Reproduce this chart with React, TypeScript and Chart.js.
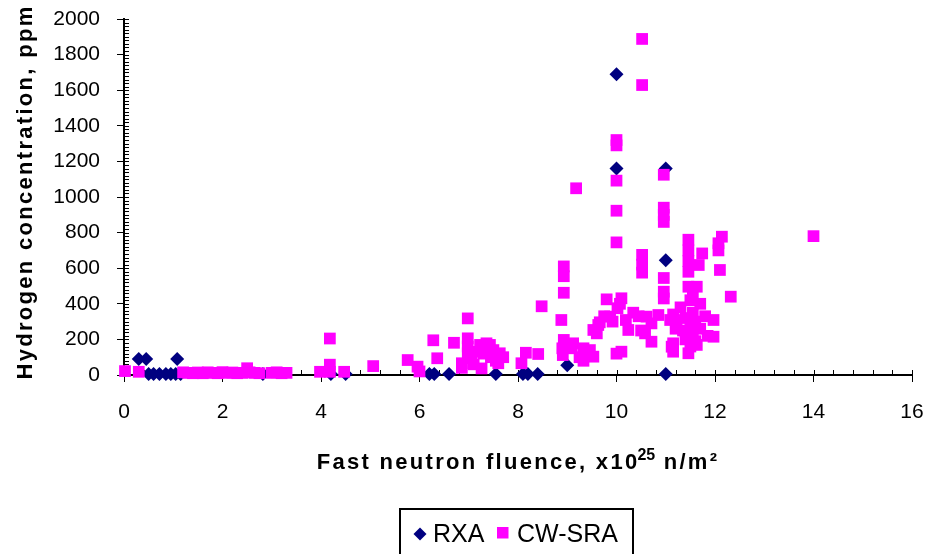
import React, { useEffect, useRef } from "react";
import { Chart, registerables } from "chart.js";

Chart.register(...registerables);

// ---- Data ----
const seriesNames = ["RXA", "CW-SRA"];

const rxaX = [0.3, 0.45, 1.08, 0.5, 0.6, 0.72, 0.85, 0.95, 1.05, 1.15, 2.82, 4.2, 4.5, 6.2, 6.3, 6.6, 7.55, 8.1, 8.2, 8.4, 9.0, 10.0, 10.0, 11.0, 11.0, 11.0];
const rxaY = [90, 90, 90, 5, 5, 5, 5, 5, 5, 5, 5, 5, 5, 5, 5, 5, 5, 5, 5, 5, 55, 1690, 1160, 1160, 645, 5];

const cwX = [
  0.02, 0.3, 1.2, 1.3, 1.4, 1.5, 1.6, 1.7, 1.8, 1.9, 2.0, 2.1, 2.2, 2.3, 2.4, 2.5, 2.55, 2.65, 2.75, 3.0, 3.1, 3.2, 3.3,
  3.98, 4.18, 4.18, 4.18, 4.47, 5.06, 5.76, 5.96, 6.0, 6.28, 6.36, 6.7,
  6.86, 6.86, 6.98, 6.98, 6.98, 6.98, 7.05, 7.1, 7.15, 7.23, 7.26, 7.3, 7.36, 7.43, 7.45, 7.5, 7.55, 7.6, 7.63, 7.7,
  8.07, 8.16, 8.41, 8.48, 8.88, 8.93, 8.93, 8.93, 8.93, 8.9, 8.91, 9.09, 9.12, 9.18, 9.25, 9.33, 9.33, 9.46, 9.53, 9.53,
  9.6, 9.63, 9.66, 9.75, 9.8, 9.87, 9.92,
  10.0, 10.0, 10.0, 10.0, 10.0, 10.02, 10.0, 10.07, 10.1, 10.1, 10.19, 10.24, 10.34, 10.45, 10.5,
  10.52, 10.52, 10.52, 10.52, 10.52, 10.58, 10.61, 10.71, 10.71, 10.85,
  10.96, 10.96, 10.96, 10.96, 10.96, 10.96, 10.96,
  11.09, 11.12, 11.15, 11.15, 11.15, 11.2, 11.22, 11.3, 11.35, 11.4, 11.4,
  11.46, 11.46, 11.46, 11.46, 11.46, 11.46, 11.5, 11.5, 11.5, 11.55, 11.55, 11.55, 11.6, 11.6, 11.63, 11.63,
  11.67, 11.7, 11.7, 11.74, 11.8, 11.85, 11.97, 11.97, 12.07, 12.07, 12.14, 12.1, 12.32, 14.0,
];
const cwY = [
  22, 18, 15, 12, 10, 14, 10, 15, 12, 10, 16, 12, 14, 10, 12, 38, 15, 12, 10, 12, 15, 10, 12,
  18, 205, 58, 18, 18, 50, 84, 47, 20, 195, 94, 181,
  66, 40, 318, 206, 160, 122, 95, 60, 130, 169, 37, 120, 178, 169, 100, 140, 80, 66, 122, 100,
  66, 125, 118, 386, 309, 610, 555, 462, 197, 150, 112, 150, 178, 1049, 100, 80, 150, 140, 103, 253,
  234, 281, 296, 330, 425, 328, 300,
  1320, 1290, 1092, 923, 745, 375, 120, 400, 431, 131, 309, 253, 350, 330, 250,
  1888, 1629, 675, 620, 575, 234, 328, 290, 187, 337,
  1125, 940, 900, 860, 545, 468, 430,
  309, 159, 178, 131, 340, 260, 309, 380, 250, 200, 320,
  760, 700, 640, 580, 496, 122, 420, 280, 160, 450, 350, 230, 300, 190, 496, 169,
  618, 400, 260, 683, 330, 220, 309, 215, 740, 700, 777, 590, 440, 780,
];

const xMin = 0, xMax = 16, xStep = 2, xMinorStep = 0.4;
const yMin = 0, yMax = 2000, yStep = 200, yMinorStep = 20;

const yTitle = "Hydrogen concentration, ppm";
const xTitleMain = "Fast neutron fluence, x10";
const xTitleSup = "25";
const xTitleTail = " n/m\u00B2";

const FONT = "'Liberation Sans', Arial, Helvetica, sans-serif";
const RXA_COLOR = "#000080";
const CW_COLOR = "#FF00FF";

function toPoints(xs: number[], ys: number[]) {
  return xs.map((x, i) => ({ x, y: ys[i] }));
}

const axisDecor = {
  id: "axisDecor",
  beforeDatasetsDraw(chart: any) {
    const { ctx, scales } = chart;
    const x = scales.x, y = scales.y;
    ctx.save();
    ctx.strokeStyle = "#000";
    ctx.lineWidth = 1;
    ctx.beginPath();
    const nx = Math.round((xMax - xMin) / xMinorStep);
    for (let i = 0; i <= nx; i++) {
      const v = xMin + i * xMinorStep;
      const px = Math.round(x.getPixelForValue(v)) + 0.5;
      ctx.moveTo(px, y.bottom);
      ctx.lineTo(px, y.bottom - 5);
    }
    const ny = Math.round((yMax - yMin) / yMinorStep);
    for (let i = 0; i <= ny; i++) {
      const v = yMin + i * yMinorStep;
      const py = Math.round(y.getPixelForValue(v)) + 0.5;
      ctx.moveTo(x.left, py);
      ctx.lineTo(x.left + 5, py);
    }
    ctx.stroke();
    ctx.restore();
  },
  afterDraw(chart: any) {
    const { ctx, chartArea } = chart;
    ctx.save();
    ctx.fillStyle = "#000";
    const ls = 2.3;
    // Y title
    ctx.font = `bold 22px ${FONT}`;
    (ctx as any).letterSpacing = `${ls}px`;
    ctx.translate(32, 192);
    ctx.rotate(-Math.PI / 2);
    ctx.textAlign = "center";
    ctx.textBaseline = "alphabetic";
    ctx.fillText(yTitle, 0, 0);
    ctx.setTransform(1, 0, 0, 1, 0, 0);

    // X title with superscript
    ctx.textAlign = "left";
    ctx.font = `bold 22px ${FONT}`;
    (ctx as any).letterSpacing = `${ls}px`;
    const w1 = ctx.measureText(xTitleMain).width;
    ctx.font = `bold 16px ${FONT}`;
    (ctx as any).letterSpacing = "0px";
    const w2 = ctx.measureText(xTitleSup).width;
    ctx.font = `bold 22px ${FONT}`;
    (ctx as any).letterSpacing = `${ls}px`;
    const w3 = ctx.measureText(xTitleTail).width;
    const cx = (chartArea.left + chartArea.right) / 2;
    const total = w1 - 2 + w2 + w3;
    const sx = cx - total / 2;
    const base = 469;
    ctx.fillText(xTitleMain, sx, base);
    ctx.font = `bold 16px ${FONT}`;
    (ctx as any).letterSpacing = "0px";
    ctx.fillText(xTitleSup, sx + w1 - 2, base - 9);
    ctx.font = `bold 22px ${FONT}`;
    (ctx as any).letterSpacing = `${ls}px`;
    ctx.fillText(xTitleTail, sx + w1 - 2 + w2, base);
    (ctx as any).letterSpacing = "0px";

    // Legend
    const lx = 400, ly = 509, lw = 233, lh = 60;
    ctx.lineWidth = 2;
    ctx.strokeStyle = "#000";
    ctx.strokeRect(lx, ly, lw, lh);
    ctx.font = `25px ${FONT}`;
    ctx.textBaseline = "alphabetic";
    const dx = 420, dy = 534, dr = 6.5;
    ctx.fillStyle = RXA_COLOR;
    ctx.beginPath();
    ctx.moveTo(dx - dr, dy);
    ctx.lineTo(dx, dy - dr);
    ctx.lineTo(dx + dr, dy);
    ctx.lineTo(dx, dy + dr);
    ctx.closePath();
    ctx.fill();
    ctx.fillStyle = "#000";
    ctx.fillText(chart.data.datasets[0].label, 433, 542);
    ctx.fillStyle = CW_COLOR;
    ctx.fillRect(497, 527, 11.5, 11.5);
    ctx.fillStyle = "#000";
    ctx.fillText(chart.data.datasets[1].label, 517, 542);
    ctx.restore();
  },
};

export default function App() {
  const ref = useRef<HTMLCanvasElement | null>(null);
  useEffect(() => {
    if (!ref.current) return;
    const tickFont = { family: FONT, size: 21 };
    const chart = new Chart(ref.current, {
      type: "scatter",
      data: {
        datasets: [
          {
            label: seriesNames[0],
            data: toPoints(rxaX, rxaY),
            pointStyle: "rectRot",
            pointRadius: 7,
            pointHoverRadius: 7,
            pointBorderWidth: 0,
            backgroundColor: RXA_COLOR,
            borderColor: RXA_COLOR,
            clip: false as any,
            order: 2,
          },
          {
            label: seriesNames[1],
            data: toPoints(cwX, cwY),
            pointStyle: "rect",
            pointRadius: 8.3,
            pointHoverRadius: 8.3,
            pointBorderWidth: 0,
            backgroundColor: CW_COLOR,
            borderColor: CW_COLOR,
            clip: false as any,
            order: 1,
          },
        ],
      },
      options: {
        animation: false,
        responsive: false,
        devicePixelRatio: 1,
        events: [],
        layout: { padding: { left: 0, right: 16, top: 19, bottom: 0 } },
        plugins: { legend: { display: false }, tooltip: { enabled: false } },
        scales: {
          x: {
            type: "linear",
            min: xMin,
            max: xMax,
            afterFit: (s: any) => { s.height = 554 - 375; s.paddingLeft = 0; s.paddingRight = 0; },
            ticks: { stepSize: xStep, font: tickFont, color: "#000", padding: 18, maxRotation: 0, callback: (v: any) => String(v) },
            grid: { display: true, drawOnChartArea: false, drawTicks: true, tickLength: 7, color: "#000", lineWidth: 1 },
            border: { display: true, color: "#000", width: 2 },
          },
          y: {
            type: "linear",
            min: yMin,
            max: yMax,
            afterFit: (s: any) => { s.width = 124; s.paddingTop = 0; s.paddingBottom = 0; },
            ticks: { stepSize: yStep, font: tickFont, color: "#000", padding: 17, callback: (v: any) => String(v) },
            grid: { display: true, drawOnChartArea: false, drawTicks: true, tickLength: 7, color: "#000", lineWidth: 1 },
            border: { display: true, color: "#000", width: 2 },
          },
        },
      },
      plugins: [axisDecor],
    });
    return () => chart.destroy();
  }, []);
  return (
    <div style={{ position: "absolute", left: 0, top: 0, width: 928, height: 554, background: "#fff" }}>
      <canvas ref={ref} width={928} height={554} style={{ display: "block" }} />
    </div>
  );
}
